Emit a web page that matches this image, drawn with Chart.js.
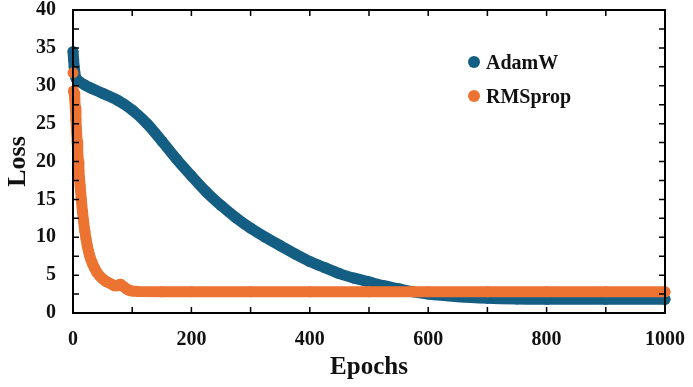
<!DOCTYPE html>
<html>
<head>
<meta charset="utf-8">
<script src="https://cdn.jsdelivr.net/npm/chart.js@4.4.1/dist/chart.umd.min.js"></script>
<style>
  html, body { margin: 0; padding: 0; background: #fff; }
  #wrap { position: relative; width: 693px; height: 387px; }
  #legend { position: absolute; left: 468px; top: 45px; font: bold 20px "Liberation Serif", "Times New Roman", serif; color: #111; }
  #legend div { height: 34px; display: flex; align-items: center; }
  #legend span.dot { width: 12px; height: 12px; border-radius: 50%; margin-right: 6px; display: inline-block; }
</style>
</head>
<body>
<div id="wrap">
  <canvas id="lossChart" width="693" height="387"></canvas>
  <div id="legend"></div>
</div>
<script>
const adamEpochs = [0, 1, 2, 3, 5, 10, 20, 30, 50, 75, 100, 125, 150, 175, 200, 225, 250, 275, 300,
  325, 350, 375, 400, 425, 450, 475, 500, 525, 550, 575, 600, 650, 700, 750, 800, 900, 1000];
const adamLoss = [34.5, 33.5, 32.5, 31.8, 31.0, 30.6, 30.1, 29.7, 29.0, 28.1, 26.8, 25.0, 22.7, 20.3, 18.1,
  16.0, 14.2, 12.6, 11.2, 10.0, 8.9, 7.8, 6.8, 6.0, 5.2, 4.6, 4.1, 3.6, 3.2, 2.8, 2.5, 2.15, 1.95, 1.85,
  1.8, 1.8, 1.8];

const rmsEpochs = [0, 1, 2, 3, 4, 5, 6, 7, 8, 9, 10, 12, 14, 16, 18, 20, 22, 24, 26, 28, 30, 33, 36, 40,
  45, 50, 55, 60, 65, 70, 75, 80, 85, 90, 95, 100, 110, 150, 200, 300, 400, 500, 600, 700, 800, 900, 1000];
const rmsLoss = [31.7, 29.3, 29.0, 28.3, 27.0, 25.5, 24.0, 22.6, 21.3, 20.0, 18.8, 16.8, 15.0, 13.4, 12.0,
  10.8, 9.8, 8.9, 8.2, 7.6, 7.1, 6.5, 6.0, 5.4, 4.9, 4.5, 4.2, 4.0, 3.8, 3.6, 3.6, 3.8, 3.5, 3.2, 3.0,
  2.9, 2.85, 2.8, 2.8, 2.8, 2.8, 2.8, 2.8, 2.8, 2.8, 2.8, 2.8];

const seriesNames = ["AdamW", "RMSprop"];
const xTicks = [0, 200, 400, 600, 800, 1000];

const blue = "#155e83";
const orange = "#ec7331";
const serif = "'Liberation Serif', 'Times New Roman', serif";

// frame and inward ticks on all four sides
const framePlugin = {
  id: "frame",
  afterDatasetsDraw(chart) {
    const { ctx, chartArea: a, scales: { x, y } } = chart;
    ctx.save();
    ctx.strokeStyle = "#000";
    ctx.lineWidth = 2;
    ctx.strokeRect(a.left, a.top, a.right - a.left, a.bottom - a.top);
    ctx.lineWidth = 1.5;
    ctx.beginPath();
    for (let v = 100; v < 1000; v += 100) {
      const px = x.getPixelForValue(v);
      ctx.moveTo(px, a.bottom); ctx.lineTo(px, a.bottom - 6);
      ctx.moveTo(px, a.top); ctx.lineTo(px, a.top + 6);
    }
    for (let v = 2.5; v < 40; v += 2.5) {
      const py = y.getPixelForValue(v);
      ctx.moveTo(a.left, py); ctx.lineTo(a.left + 6, py);
      ctx.moveTo(a.right, py); ctx.lineTo(a.right - 6, py);
    }
    ctx.stroke();
    ctx.restore();
  }
};

function series(epochs, loss) {
  return epochs.map((e, i) => ({ x: e, y: loss[i] }));
}

const chart = new Chart(document.getElementById("lossChart"), {
  type: "scatter",
  data: {
    datasets: [
      {
        label: seriesNames[0],
        data: series(adamEpochs, adamLoss),
        borderColor: blue,
        backgroundColor: blue,
        showLine: true,
        borderWidth: 11,
        borderCapStyle: "round",
        borderJoinStyle: "round",
        cubicInterpolationMode: "monotone",
        pointRadius: 5.5,
        pointBorderWidth: 0,
        clip: false,
        order: 1
      },
      {
        label: seriesNames[1],
        data: series(rmsEpochs, rmsLoss),
        borderColor: orange,
        backgroundColor: orange,
        showLine: true,
        borderWidth: 11,
        borderCapStyle: "round",
        borderJoinStyle: "round",
        pointRadius: 5.5,
        pointBorderWidth: 0,
        clip: false,
        order: 0,
        // first point sits apart from the rest
        segment: { borderColor: c => c.p0DataIndex === 0 ? "rgba(0,0,0,0)" : undefined }
      }
    ]
  },
  options: {
    responsive: false,
    animation: false,
    layout: { padding: { top: 10, right: 28, left: 0, bottom: 0 } },
    plugins: { legend: { display: false }, tooltip: { enabled: false } },
    scales: {
      x: {
        type: "linear",
        min: 0,
        max: 1000,
        afterBuildTicks: s => { s.ticks = xTicks.map(v => ({ value: v })); },
        afterFit: s => { s.height = 74; s.paddingLeft = 0; s.paddingRight = 0; },
        grid: { display: false },
        border: { display: false },
        ticks: { color: "#111", padding: 7, callback: v => String(v),
          font: { family: serif, size: 20, weight: "bold" } },
        title: { display: true, text: "Epochs", color: "#111", padding: { top: 0, bottom: 4 },
          font: { family: serif, size: 25, weight: "bold" } }
      },
      y: {
        min: 0,
        max: 40,
        afterFit: s => { s.width = 73; s.paddingTop = 0; s.paddingBottom = 0; },
        grid: { display: false },
        border: { display: false },
        ticks: { stepSize: 5, color: "#111", padding: 9, font: { family: serif, size: 20, weight: "bold" } },
        title: { display: true, text: "Loss", color: "#111", padding: { top: 3, bottom: 0 },
          font: { family: serif, size: 26, weight: "bold" } }
      }
    }
  },
  plugins: [framePlugin]
});

const legend = document.getElementById("legend");
chart.data.datasets.forEach(ds => {
  const row = document.createElement("div");
  row.innerHTML = `<span class="dot" style="background:${ds.borderColor}"></span>${ds.label}`;
  legend.appendChild(row);
});
</script>
</body>
</html>
